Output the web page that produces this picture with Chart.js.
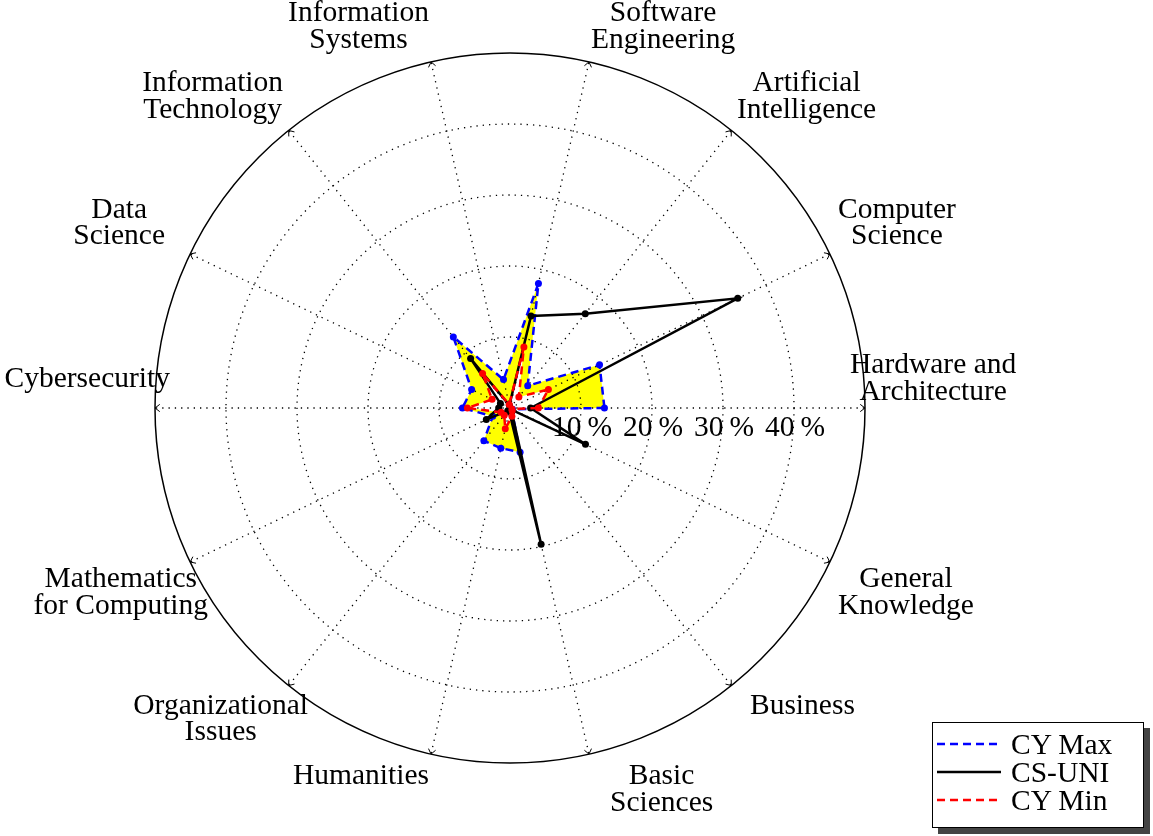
<!DOCTYPE html>
<html>
<head>
<meta charset="utf-8">
<title>CY vs CS-UNI</title>
<script src="https://cdn.jsdelivr.net/npm/chart.js@4.4.1/dist/chart.umd.min.js"></script>
<style>
  html, body { margin: 0; padding: 0; background: #fff; }
  #wrap { position: relative; width: 1153px; height: 836px; }
  #legend {
    position: absolute; left: 932px; top: 722px; width: 212px; height: 106px;
    box-sizing: border-box; border: 1.5px solid #000; background: #fff;
    box-shadow: 6px 6px 0 #444;
    font: 29.5px "Liberation Serif", serif; color: #000;
  }
  .row { position: absolute; left: 0; height: 28px; line-height: 28px; display: flex; align-items: center; white-space: nowrap; }
  .row svg { margin-left: 4px; margin-right: 10px; }
</style>
</head>
<body>
<div id="wrap">
  <canvas id="chart"></canvas>
  <div id="legend"></div>
</div>
<script>
// axes, clockwise from the right (Chart.js draws clockwise)
const categories = [
  ['Hardware and', 'Architecture'],
  ['General', 'Knowledge'],
  ['Business'],
  ['Basic', 'Sciences'],
  ['Humanities'],
  ['Organizational', 'Issues'],
  ['Mathematics', 'for Computing'],
  ['Cybersecurity'],
  ['Data', 'Science'],
  ['Information', 'Technology'],
  ['Information', 'Systems'],
  ['Software', 'Engineering'],
  ['Artificial', 'Intelligence'],
  ['Computer', 'Science']
];

const seriesNames = ['CY Max', 'CS-UNI', 'CY Min'];

// percentages, same order as categories
const cyMax = [13.3, 0.4, 0.4, 6.4, 5.8, 5.9, 2.7, 6.7, 6.0, 12.8, 4.1, 18.0, 4.0, 14.0];
const csUni = [2.9, 11.8, 0.3, 19.7, 0.5, 0.5, 3.7, 1.6, 1.5, 8.9, 0.4, 13.3, 17.0, 35.6];
const cyMin = [4.0, 0.3, 0.5, 1.2, 3.0, 1.3, 1.4, 6.0, 2.8, 6.2, 0.5, 8.8, 2.0, 6.0];

const tickValues = [10, 20, 30, 40];
const tickLabels = ['10\u2009%', '20\u2009%', '30\u2009%', '40\u2009%'];

const colors = ['#0000ff', '#000000', '#ff0000'];
const dashes = [[8, 5], [], [8, 5]];
const FONT = '29.5px "Liberation Serif", serif';
const LINE_H = 26.7;
// small horizontal nudges of the category labels (px)
const labelShift = [0, 0, 13, 19, 0, 25, 26, 0, -17, 0, 0, 0, 0, 0];

// axis labels, tick labels and arrow heads drawn around the radial scale
const decorations = {
  id: 'decorations',
  beforeDatasetsDraw(chart) {
    const s = chart.scales.r;
    const ctx = chart.ctx;
    ctx.save();
    ctx.font = FONT;
    ctx.fillStyle = '#000';
    ctx.textAlign = 'center';
    ctx.textBaseline = 'middle';
    tickValues.forEach((v, i) => {
      const r = s.getDistanceFromCenterForValue(v);
      ctx.fillText(tickLabels[i], s.xCenter + r + 1, s.yCenter + 20);
    });
    ctx.restore();
  },
  afterDraw(chart) {
    const s = chart.scales.r;
    const ctx = chart.ctx;
    ctx.save();
    // arrow heads at the outer end of every spoke
    ctx.strokeStyle = '#000';
    ctx.lineWidth = 1;
    categories.forEach((c, i) => {
      const p = s.getPointPosition(i, s.drawingArea);
      const a = p.angle;
      const len = 6, spread = 0.65;
      ctx.beginPath();
      ctx.moveTo(p.x - len * Math.cos(a - spread), p.y - len * Math.sin(a - spread));
      ctx.lineTo(p.x, p.y);
      ctx.lineTo(p.x - len * Math.cos(a + spread), p.y - len * Math.sin(a + spread));
      ctx.stroke();
    });
    // category labels
    ctx.font = FONT;
    ctx.fillStyle = '#000';
    ctx.textAlign = 'center';
    ctx.textBaseline = 'middle';
    categories.forEach((lines, i) => {
      const w = Math.max(...lines.map(t => ctx.measureText(t).width));
      const h = lines.length * LINE_H;
      const a = s.getPointPosition(i, 0).angle;
      const cos = Math.cos(a), sin = Math.sin(a);
      let p, left, top;
      if (Math.abs(sin) < 0.05) {
        p = s.getPointPosition(i, s.drawingArea - 15);
        left = cos > 0 ? p.x : p.x - w;
        top = p.y - 29 - h / 2;
      } else {
        p = s.getPointPosition(i, s.drawingArea + 9);
        left = Math.abs(cos) < 0.05 ? p.x - w / 2 : (cos > 0 ? p.x : p.x - w);
        top = sin < 0 ? p.y - h : p.y;
      }
      left += labelShift[i];
      lines.forEach((t, k) => ctx.fillText(t, left + w / 2, top + LINE_H * (k + 0.5)));
    });
    ctx.restore();
  }
};

const canvas = document.getElementById('chart');
canvas.width = 1153;
canvas.height = 836;
const ctx = canvas.getContext('2d');

new Chart(ctx, {
  type: 'radar',
  data: {
    labels: categories,
    datasets: [
      {
        label: seriesNames[0],
        data: cyMax,
        borderColor: colors[0],
        borderDash: dashes[0],
        backgroundColor: '#ffff00',
        pointBackgroundColor: colors[0],
        fill: 2,
        order: 3
      },
      {
        label: seriesNames[1],
        data: csUni,
        borderColor: colors[1],
        borderDash: dashes[1],
        pointBackgroundColor: colors[1],
        fill: false,
        order: 2
      },
      {
        label: seriesNames[2],
        data: cyMin,
        borderColor: colors[2],
        borderDash: dashes[2],
        pointBackgroundColor: colors[2],
        fill: false,
        order: 1
      }
    ]
  },
  options: {
    responsive: false,
    animation: false,
    events: [],
    layout: { padding: { left: 155, right: 288, top: 53, bottom: 73 } },
    elements: {
      line: { borderWidth: 2.5, tension: 0 },
      point: { radius: 3.5, borderWidth: 0, hoverRadius: 3.5 }
    },
    plugins: {
      legend: { display: false },
      tooltip: { enabled: false },
      filler: { drawTime: 'beforeDraw' }
    },
    scales: {
      r: {
        min: 0,
        max: 50,
        startAngle: 90,
        ticks: { display: false, stepSize: 10 },
        pointLabels: { display: false },
        grid: {
          circular: true,
          color: '#000',
          lineWidth: c => (c.tick && c.tick.value === 50 ? 1.5 : 1.3)
        },
        border: {
          dash: c => (c.tick && c.tick.value === 50 ? [] : [1.3, 5])
        },
        angleLines: { color: '#000', lineWidth: 1.3, borderDash: [1.3, 5] }
      }
    }
  },
  plugins: [decorations]
});

// legend box
const legend = document.getElementById('legend');
seriesNames.forEach((name, i) => {
  const row = document.createElement('div');
  row.className = 'row';
  row.style.top = (7 + i * 28) + 'px';
  const svg = '<svg width="64" height="10"><line x1="0" y1="5" x2="64" y2="5" stroke="' + colors[i] +
    '" stroke-width="2.7"' + (dashes[i].length ? ' stroke-dasharray="' + dashes[i].join(' ') + '"' : '') + '/></svg>';
  row.innerHTML = svg + '<span>' + name + '</span>';
  legend.appendChild(row);
});
</script>
</body>
</html>
